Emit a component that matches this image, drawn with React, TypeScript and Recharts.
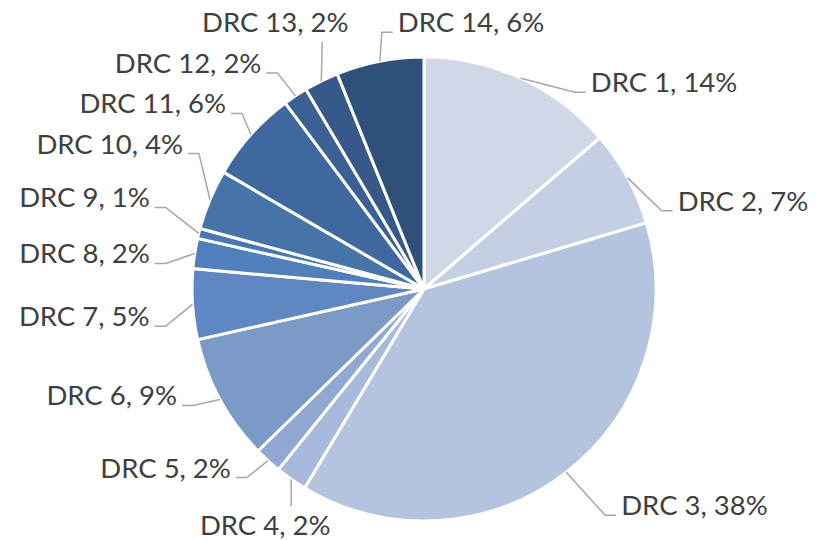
import { PieChart, Pie, Cell } from 'recharts'

// slice names and shares (% of total)
const names = ['DRC 1', 'DRC 2', 'DRC 3', 'DRC 4', 'DRC 5', 'DRC 6', 'DRC 7', 'DRC 8', 'DRC 9', 'DRC 10', 'DRC 11', 'DRC 12', 'DRC 13', 'DRC 14']
const shares = [13.7, 6.7, 38.2, 2.2, 1.9, 8.8, 4.9, 2.1, 0.7, 4.2, 6.4, 1.7, 2.4, 6.1]

const colors = [
  '#d0d8e8', '#c5cfe4', '#b4c3de', '#a7b9dc', '#91a8d2', '#7b9ac8', '#5f88c2',
  '#4f7fbd', '#4a78b2', '#4674a9', '#3f68a0', '#3a6095', '#36598a', '#2f5179',
]

const data = names.map((name, i) => ({ name, value: shares[i] }))

// leader line layout: elbow offset from the slice edge, side of the text (1 right, -1 left, 0 = vertical line)
type Lay = { dx: number; dy: number; side: number; tx?: number; ty?: number }
const layout: Lay[] = [
  { dx: 54, dy: 14, side: 1 },
  { dx: 34, dy: 33, side: 1 },
  { dx: 39, dy: 43, side: 1 },
  { dx: 0, dy: 27, side: 0, tx: -26, ty: 29 },
  { dx: -21, dy: 17, side: -1 },
  { dx: -27, dy: 6, side: -1 },
  { dx: -27, dy: 22, side: -1 },
  { dx: -29, dy: 10, side: -1 },
  { dx: -33, dy: -26, side: -1 },
  { dx: -11, dy: -46, side: -1 },
  { dx: -9, dy: -21, side: -1 },
  { dx: -18, dy: -23, side: -1 },
  { dx: 1, dy: -39, side: 0, tx: -47, ty: -10 },
  { dx: 2, dy: -29, side: 1 },
]

const RAD = Math.PI / 180
const FONT = 'Lato, "Open Sans", sans-serif'
const FS = 27.5

function renderLabel(props: any) {
  const { cx, cy, midAngle, outerRadius, index, percent } = props
  const lay = layout[index]
  const x0 = cx + outerRadius * Math.cos(-midAngle * RAD)
  const y0 = cy + outerRadius * Math.sin(-midAngle * RAD)
  const x1 = x0 + lay.dx
  const y1 = y0 + lay.dy
  const text = `${names[index]}, ${Math.round(percent * 100)}%`
  if (lay.side === 0) {
    return (
      <g key={`lbl-${index}`}>
        <polyline points={`${x0},${y0} ${x1},${y1}`} stroke="#a6a6a6" strokeWidth={1.5} fill="none" />
        <text x={x1 + (lay.tx ?? 0)} y={y1 + (lay.ty ?? 0)} textAnchor="middle" fill="#404040" fontSize={FS} fontFamily={FONT}>
          {text}
        </text>
      </g>
    )
  }
  const x2 = x1 + lay.side * 11
  return (
    <g key={`lbl-${index}`}>
      <polyline points={`${x0},${y0} ${x1},${y1} ${x2},${y1}`} stroke="#a6a6a6" strokeWidth={1.5} fill="none" />
      <text
        x={x2 + lay.side * 5}
        y={y1}
        textAnchor={lay.side > 0 ? 'start' : 'end'}
        fill="#404040"
        fontSize={FS}
        fontFamily={FONT}
      >
        {text}
      </text>
    </g>
  )
}

export default function App() {
  return (
    <div style={{ position: 'absolute', left: 0, top: 0, width: 827, height: 540, background: '#fff' }}>
      <PieChart width={827} height={540} margin={{ top: 0, right: 0, bottom: 0, left: 0 }}>
        <Pie
          data={data}
          dataKey="value"
          nameKey="name"
          cx={424}
          cy={289}
          outerRadius={232}
          startAngle={90}
          endAngle={-270}
          stroke="#ffffff"
          strokeWidth={3}
          labelLine={false}
          label={renderLabel}
          isAnimationActive={false}
        >
          {data.map((d, i) => (
            <Cell key={d.name} fill={colors[i]} />
          ))}
        </Pie>
      </PieChart>
    </div>
  )
}
